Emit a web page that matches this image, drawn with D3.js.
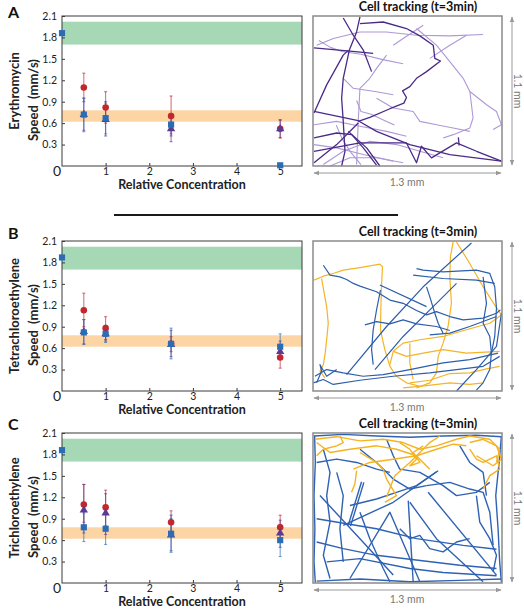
<!DOCTYPE html>
<html>
<head>
<meta charset="utf-8">
<script src="https://d3js.org/d3.v7.min.js"></script>
<style>
	body { margin: 0; background: #fff; }
	svg { display: block; font-family: Lato, "Open Sans", sans-serif; }
</style>
</head>
<body>
<div id="vis_container"></div>
<script>
// ---- data ----
var compounds = ["Erythromycin", "Tetrachloroethylene", "Trichloroethylene"];
var panelLetters = ["A", "B", "C"];
var concentrations = [0, 0.5, 1, 2.5, 5];
var xTicks = [1, 2, 3, 4, 5];
var yTicks = [0.3, 0.6, 0.9, 1.2, 1.5, 1.8, 2.1];
var controlBand = [1.70, 2.02];
var referenceBand = [0.62, 0.78];

// speed (mm/s) per panel, one value per concentration (null = no point)
var redMean  = [[null, 1.10, 0.82, 0.70, 0.52], [null, 1.13, 0.88, 0.66, 0.47], [null, 1.10, 1.06, 0.85, 0.78]];
var redLow   = [[null, 0.90, 0.60, 0.42, 0.39], [null, 0.90, 0.72, 0.55, 0.32], [null, 0.85, 0.80, 0.70, 0.60]];
var redHigh  = [[null, 1.30, 1.04, 0.98, 0.65], [null, 1.37, 1.04, 0.76, 0.60], [null, 1.38, 1.30, 1.01, 0.95]];
var purpleMean = [[null, 0.72, 0.65, 0.52, 0.52], [null, 0.83, 0.80, 0.65, 0.55], [null, 1.02, 0.98, 0.67, 0.70]];
var purpleLow  = [[null, 0.50, 0.42, 0.34, 0.40], [null, 0.66, 0.70, 0.48, 0.45], [null, 0.70, 0.68, 0.45, 0.50]];
var purpleHigh = [[null, 0.95, 0.90, 0.70, 0.64], [null, 1.00, 0.92, 0.85, 0.70], [null, 1.38, 1.25, 0.95, 0.88]];
var blueMean = [[1.86, 0.72, 0.67, 0.58, 0.01], [1.87, 0.82, 0.80, 0.66, 0.62], [1.86, 0.78, 0.76, 0.69, 0.60]];
var blueLow  = [[1.86, 0.48, 0.45, 0.45, 0.01], [1.87, 0.65, 0.68, 0.45, 0.50], [1.86, 0.58, 0.54, 0.43, 0.37]];
var blueHigh = [[1.86, 0.95, 0.88, 0.70, 0.01], [1.87, 1.00, 0.90, 0.88, 0.80], [1.86, 0.98, 0.98, 0.90, 0.82]];

// cell tracks, [x, y] in micrometres inside the 1300 x 1100 field (y from top)
var tracksA_light = [
	[[25,214],[140,165],[323,117],[506,117],[712,141],[941,146],[1170,136]],
	[[712,92],[849,214],[941,335],[1033,457],[1079,554],[1194,651],[1262,700],[1296,797],[1239,833]],
	[[804,311],[941,214],[1056,141]],
	[[506,287],[437,384],[391,457],[323,530],[311,773],[300,1089]],
	[[437,603],[552,675],[689,700],[735,773],[850,797],[964,821],[1079,846]],
	[[1079,554],[1101,748],[1079,821],[964,870],[895,894]],
	[[7,797],[163,773],[323,809],[506,846],[643,882]],
	[[7,943],[163,967],[346,1016],[552,1064]],
	[[71,1089],[208,992],[391,919],[574,943],[735,992],[895,1040]],
	[[117,1100],[254,1040],[437,1040],[620,1076]],
	[[552,214],[620,165],[689,117],[758,68]],
	[[208,457],[277,530],[437,555],[552,578]],
	[[40,180],[120,230],[200,260],[330,280],[480,320],[620,350]],
	[[300,620],[330,700],[400,720],[480,760],[560,800]],
	[[160,800],[200,900],[260,1000],[330,1090]]
];
var tracksA_dark = [
	[[323,56],[483,44],[643,92],[735,146],[827,214],[838,311],[877,330],[781,408],[712,457],[666,518],[616,549],[643,598],[625,639],[529,680],[391,744],[311,773]],
	[[7,700],[311,768],[437,846],[666,943],[941,1016],[1296,1064]],
	[[208,15],[277,141],[346,250],[403,408]],
	[[323,7],[300,117],[250,250],[208,457],[197,603],[208,773],[220,992],[197,1100]],
	[[7,233],[254,258],[414,274]],
	[[7,712],[94,505],[208,287],[243,250]],
	[[7,894],[163,858],[266,870],[346,967],[437,1094]],
	[[7,1076],[163,943],[311,785]],
	[[7,992],[323,931],[643,931],[712,1076],[746,955],[815,1040],[987,930],[1125,992],[1296,1064]],
	[[243,846],[369,967],[460,1100]],
	[[1000,890],[1005,950]]
];
var tracksB_yellow = [
	[[7,287],[71,258],[139,238],[208,214],[323,195],[460,170],[478,190],[471,336],[467,481],[464,651],[494,797],[529,919],[574,992],[643,1040],[735,1065]],
	[[59,275],[75,372],[94,481],[105,603],[94,724],[84,822],[71,907],[48,955],[82,1004]],
	[[964,7],[945,117],[941,263],[952,457],[929,627],[895,749],[861,846],[849,967],[803,1040],[712,1077]],
	[[987,7],[1078,165],[1170,336],[1250,469],[1296,542],[1216,603],[1055,651],[895,700],[735,724],[620,749],[552,809],[529,907]],
	[[552,809],[643,846],[758,822],[895,797],[1055,822],[1284,809]],
	[[666,1040],[803,1021],[941,972],[1078,967],[1193,938],[1284,919]],
	[[620,1077],[781,1060],[941,1040],[1078,1052],[1170,1040]],
	[[666,749],[666,894],[689,1016]]
];
var tracksB_blue = [
	[[231,980],[506,627],[758,336],[1090,15]],
	[[426,943],[620,700],[849,457],[987,311]],
	[[71,178],[117,250],[185,263],[231,282],[277,311],[323,331],[437,372],[529,433],[620,457],[712,510],[781,542],[849,518],[941,554],[1033,578],[1170,566],[1262,530],[1289,505]],
	[[460,323],[781,481]],
	[[712,202],[758,214],[895,226],[1124,214],[1216,238],[1250,336],[1262,493],[1250,700],[1227,822],[1216,943],[1170,1040],[1124,1094]],
	[[689,250],[895,275],[1124,287],[1250,311]],
	[[803,688],[941,676],[1078,627],[1262,554]],
	[[13,992],[94,943],[208,967],[345,992],[483,980],[666,943],[895,894],[1078,870],[1273,822]],
	[[2,1040],[71,1016],[139,1052],[323,1021],[552,992],[803,967],[987,943],[1170,919],[1284,846]],
	[[987,1100],[1124,943],[1262,773],[1296,530]],
	[[464,360],[437,506],[414,651],[403,797],[414,907]],
	[[357,615],[437,591],[529,608],[620,578],[712,608],[849,627],[941,656]],
	[[781,336],[803,408],[838,530],[861,603],[895,676]],
	[[25,1040],[59,955],[48,907],[94,992],[163,943]],
	[[1170,263],[1193,457],[1170,603],[1216,700],[1227,822]]
];
var tracksC_blue = [
	[[7,22],[208,10],[437,22],[666,31],[895,22],[1124,17],[1296,27]],
	[[11,22],[16,214],[7,459],[13,702],[7,945],[16,1096]],
	[[25,1086],[323,1071],[666,1091],[1010,1081],[1296,1071]],
	[[1296,22],[1280,216],[1257,459],[1273,702],[1284,945],[1296,1096]],
	[[48,459],[323,775],[552,1042]],
	[[208,678],[552,508],[861,277]],
	[[254,1067],[529,581],[735,1091]],
	[[666,508],[849,775],[1170,1091]],
	[[655,496],[689,1091]],
	[[792,435],[1262,1042]],
	[[25,629],[437,702],[712,775],[1033,824],[1262,853]],
	[[25,799],[208,848],[437,897],[666,926],[1010,970],[1262,994]],
	[[94,945],[323,921],[666,994],[895,1023],[1262,1047]],
	[[781,386],[941,362],[1078,411],[1170,435],[1216,581],[1239,824]],
	[[323,119],[437,216],[552,338],[666,411],[781,386]],
	[[163,289],[208,459],[185,702],[208,945]],
	[[1010,94],[1078,216],[1170,289],[1193,459]],
	[[597,702],[666,775],[735,751],[803,848],[895,872],[987,799],[1078,775]],
	[[254,532],[437,484],[574,435],[712,386],[849,284]],
	[[334,357],[242,678]],
	[[350,362],[258,683]],
	[[71,119],[117,289],[94,459],[117,653],[71,897],[117,1067]],
	[[506,46],[552,167],[597,265],[735,289],[895,386],[987,459],[1124,435],[1216,362]],
	[[323,581],[391,775],[483,994],[529,1091]],
	[[1124,459],[1147,653],[1216,775],[1262,897],[1239,1018]],
	[[25,216],[163,192],[300,216],[437,265],[529,289]]
];
var tracksC_yellow = [
	[[13,46],[163,27],[323,58],[483,46],[620,70],[735,119],[849,94],[987,46],[1078,22],[1216,46],[1284,119],[1262,216]],
	[[25,70],[117,143],[254,119],[437,94],[574,119],[712,167],[803,265]],
	[[277,265],[391,216],[552,192],[712,167],[849,119],[964,82],[1055,94]],
	[[300,277],[288,374],[265,435]],
	[[506,471],[540,374],[563,313],[666,216],[735,143],[803,70],[872,22]],
	[[494,508],[574,459],[540,398],[506,338],[483,265],[437,216],[323,143]],
	[[1078,119],[1124,192],[1170,216],[1262,167],[1284,265],[1216,313],[1170,411]],
	[[25,167],[71,119],[163,94],[208,70],[185,22]],
	[[597,70],[666,119],[712,192],[666,240],[735,216],[689,143],[758,94]],
	[[1078,70],[1170,46],[1262,94],[1296,192],[1239,240],[1124,167]]
];
var fieldWidth = 1300, fieldHeight = 1100;

// ---- layout ----
var W = 524, H = 616;
var plotLeft = 62, plotRight = 302, plotHeight = 150;
var plotTops = [16, 241, 433];
var letterY = [18, 239, 430];
var boxLeft = 313, boxRight = 502;
var trackLayers = [
	[{tracks: tracksA_light, color: "#ad99d4", width: 1.1}, {tracks: tracksA_dark, color: "#4b2a88", width: 1.3}],
	[{tracks: tracksB_yellow, color: "#f4b427", width: 1.2}, {tracks: tracksB_blue, color: "#2d5dab", width: 1.2}],
	[{tracks: tracksC_blue, color: "#2f62b3", width: 1.4}, {tracks: tracksC_yellow, color: "#f5b321", width: 1.4}]
];
var colors = {red: "#c1272d", purple: "#5a3a93", blue: "#2a6db5"};

var svg = d3.select("#vis_container").append("svg")
	.attr("width", W)
	.attr("height", H)
	.style("background-color", "#FFFFFF");

var defs = svg.append("defs");
defs.append("marker")
	.attr("id", "arrow")
	.attr("viewBox", "0 0 10 10")
	.attr("refX", 9).attr("refY", 5)
	.attr("markerWidth", 6).attr("markerHeight", 6)
	.attr("orient", "auto-start-reverse")
	.append("path")
	.attr("d", "M0,1 L10,5 L0,9 Z")
	.attr("fill", "#999");

var x = d3.scaleLinear().domain([0, 5.5]).range([plotLeft, plotRight]);
var trackX = d3.scaleLinear().domain([0, fieldWidth]).range([boxLeft, boxRight]);

// separator line between A and B
svg.append("line")
	.attr("x1", 114).attr("x2", 398)
	.attr("y1", 215).attr("y2", 215)
	.attr("stroke", "#1a1a1a")
	.attr("stroke-width", 2);

compounds.forEach(function(name, p) {
	var top = plotTops[p], bottom = top + plotHeight;
	var y = d3.scaleLinear().domain([0, 2.1]).range([bottom, top]);
	var g = svg.append("g");

	// bands
	[[controlBand, "#a6d8b6"], [referenceBand, "#fdd4a3"]].forEach(function(b) {
		g.append("rect")
			.attr("x", plotLeft)
			.attr("width", plotRight - plotLeft)
			.attr("y", y(b[0][1]))
			.attr("height", y(b[0][0]) - y(b[0][1]))
			.attr("fill", b[1]);
	});

	// frame
	g.append("rect")
		.attr("x", plotLeft).attr("y", top)
		.attr("width", plotRight - plotLeft).attr("height", plotHeight)
		.attr("fill", "none")
		.attr("stroke", "#3a3a3a")
		.attr("stroke-width", 1);

	// axes
	var yAxis = g.append("g")
		.attr("transform", "translate(" + plotLeft + ",0)")
		.call(d3.axisLeft(y).tickValues(yTicks).tickSize(-3).tickPadding(5).tickFormat(d3.format(".1f")));
	var xAxis = g.append("g")
		.attr("transform", "translate(0," + bottom + ")")
		.call(d3.axisBottom(x).tickValues(xTicks).tickSize(-3).tickPadding(2).tickFormat(d3.format("d")));
	[yAxis, xAxis].forEach(function(a) {
		a.select(".domain").remove();
		a.selectAll("line").attr("stroke", "#3a3a3a");
		a.selectAll("text").attr("font-size", 10.5).attr("fill", "#222").attr("font-family", "Lato, sans-serif");
	});
	g.append("text")
		.attr("x", 57).attr("y", bottom + 10)
		.attr("text-anchor", "middle")
		.attr("font-size", 14)
		.attr("fill", "#222")
		.text("0");

	// axis titles
	g.append("text")
		.attr("transform", "translate(19," + (top + plotHeight / 2) + ") rotate(-90)")
		.attr("text-anchor", "middle")
		.attr("font-size", 13)
		.attr("font-weight", "bold")
		.attr("fill", "#222")
		.text(name);
	g.append("text")
		.attr("transform", "translate(38," + (top + plotHeight / 2 + 9) + ") rotate(-90)")
		.attr("text-anchor", "middle")
		.attr("font-size", 13)
		.attr("font-weight", "bold")
		.attr("fill", "#222")
		.style("white-space", "pre")
		.text("Speed  (mm/s)");
	g.append("text")
		.attr("x", (plotLeft + plotRight) / 2)
		.attr("y", bottom + 23)
		.attr("text-anchor", "middle")
		.attr("font-size", 12.5)
		.attr("font-weight", "bold")
		.attr("fill", "#222")
		.text("Relative Concentration");
	g.append("text")
		.attr("x", 8).attr("y", letterY[p])
		.attr("font-size", 16)
		.attr("font-weight", "bold")
		.attr("fill", "#111")
		.text(panelLetters[p]);

	// series
	var series = [
		{mean: redMean[p], low: redLow[p], high: redHigh[p], color: colors.red, symbol: d3.symbolCircle, size: 34},
		{mean: purpleMean[p], low: purpleLow[p], high: purpleHigh[p], color: colors.purple, symbol: d3.symbolTriangle, size: 30},
		{mean: blueMean[p], low: blueLow[p], high: blueHigh[p], color: colors.blue, symbol: d3.symbolSquare, size: 38}
	];
	series.forEach(function(s) {
		concentrations.forEach(function(c, i) {
			if (s.mean[i] == null || s.high[i] - s.low[i] < 0.02) return;
			g.append("line")
				.attr("x1", x(c)).attr("x2", x(c))
				.attr("y1", y(s.low[i])).attr("y2", y(s.high[i]))
				.attr("stroke", s.color)
				.attr("stroke-opacity", 0.7)
				.attr("stroke-width", 1);
			[s.low[i], s.high[i]].forEach(function(v) {
				g.append("line")
					.attr("x1", x(c) - 1.5).attr("x2", x(c) + 1.5)
					.attr("y1", y(v)).attr("y2", y(v))
					.attr("stroke", s.color)
					.attr("stroke-opacity", 0.7);
			});
		});
	});
	series.forEach(function(s) {
		concentrations.forEach(function(c, i) {
			if (s.mean[i] == null) return;
			g.append("path")
				.attr("d", d3.symbol().type(s.symbol).size(s.size)())
				.attr("transform", "translate(" + x(c) + "," + y(s.mean[i]) + ")")
				.attr("fill", s.color);
		});
	});

	// tracking panel
	var trackY = d3.scaleLinear().domain([0, fieldHeight]).range([top, bottom]);
	var line = d3.line().x(function(d) { return trackX(d[0]); }).y(function(d) { return trackY(d[1]); });
	trackLayers[p].forEach(function(layer) {
		g.append("g").selectAll("path")
			.data(layer.tracks)
			.enter().append("path")
			.attr("d", line)
			.attr("fill", "none")
			.attr("stroke", layer.color)
			.attr("stroke-width", layer.width)
			.attr("stroke-linejoin", "round");
	});
	g.append("rect")
		.attr("x", boxLeft).attr("y", top)
		.attr("width", boxRight - boxLeft).attr("height", plotHeight)
		.attr("fill", "none")
		.attr("stroke", "#8a8a8a")
		.attr("stroke-width", 1.5);
	g.append("text")
		.attr("x", 418).attr("y", top - 5)
		.attr("text-anchor", "middle")
		.attr("font-size", 12.5)
		.attr("font-weight", "bold")
		.attr("fill", "#111")
		.text("Cell tracking (t=3min)");

	// scale arrows
	g.append("line")
		.attr("x1", boxLeft + 1).attr("x2", boxRight - 1)
		.attr("y1", bottom + 7).attr("y2", bottom + 7)
		.attr("stroke", "#999")
		.attr("marker-start", "url(#arrow)")
		.attr("marker-end", "url(#arrow)");
	g.append("text")
		.attr("x", 407).attr("y", bottom + 20)
		.attr("text-anchor", "middle")
		.attr("font-size", 10.5)
		.attr("fill", "#777")
		.text("1.3 mm");
	g.append("line")
		.attr("x1", 512).attr("x2", 512)
		.attr("y1", top + 1).attr("y2", bottom - 1)
		.attr("stroke", "#999")
		.attr("marker-start", "url(#arrow)")
		.attr("marker-end", "url(#arrow)");
	g.append("text")
		.attr("transform", "translate(513.5," + (top + plotHeight / 2) + ") rotate(90)")
		.attr("text-anchor", "middle")
		.attr("font-size", 10.5)
		.attr("fill", "#777")
		.text("1.1 mm");
});
</script>
</body>
</html>
